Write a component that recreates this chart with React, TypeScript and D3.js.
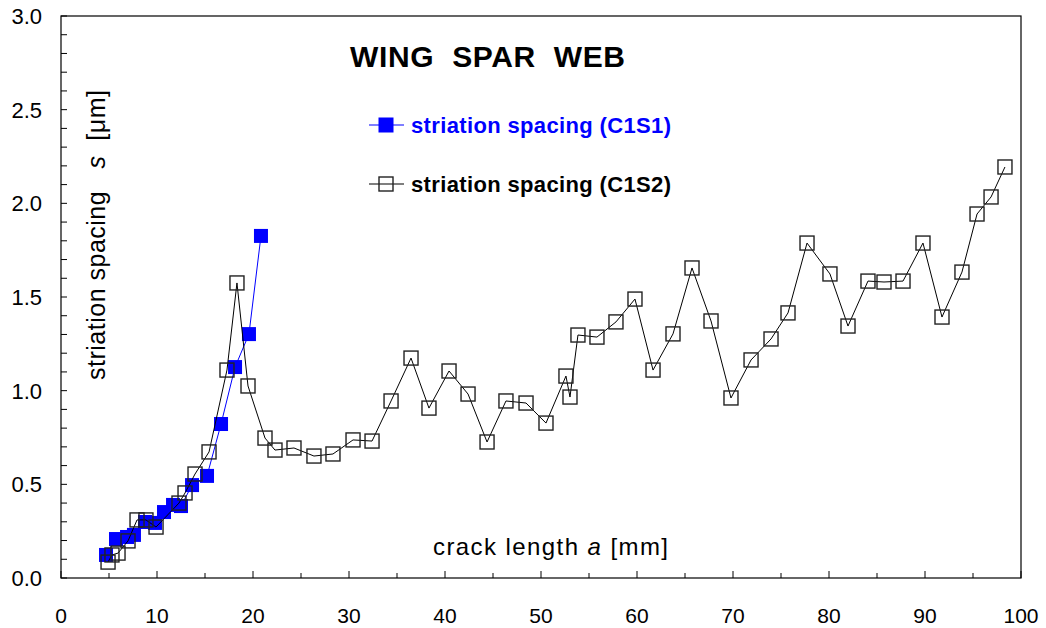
import React from "react";
import * as d3 from "d3";

// crack length a [mm] vs striation spacing s [um]
const c1s1X = [4.69, 5.73, 6.88, 7.6, 8.75, 9.79, 10.73, 11.67, 12.5, 13.65, 15.21, 16.67, 18.13, 19.58, 20.83];
const c1s1Y = [0.123, 0.208, 0.219, 0.23, 0.299, 0.294, 0.352, 0.39, 0.384, 0.496, 0.545, 0.822, 1.126, 1.302, 1.826];

const c1s2X = [
  4.9, 5.31, 5.94, 6.98, 7.92, 8.85, 9.9, 12.29, 12.92, 13.96, 15.42, 17.29, 18.33, 19.48, 21.25, 22.29,
  24.27, 26.35, 28.33, 30.42, 32.4, 34.38, 36.46, 38.33, 40.42, 42.4, 44.38, 46.35, 48.44, 50.52, 52.6,
  53.02, 53.85, 55.83, 57.81, 59.79, 61.67, 63.75, 65.73, 67.71, 69.79, 71.88, 73.96, 75.73, 77.71, 80.1,
  81.98, 84.06, 85.73, 87.71, 89.79, 91.77, 93.85, 95.42, 96.88, 98.33,
];
const c1s2Y = [
  0.085, 0.123, 0.133, 0.198, 0.31, 0.31, 0.272, 0.4, 0.454, 0.555, 0.673, 1.11, 1.575, 1.025, 0.747, 0.683,
  0.694, 0.651, 0.662, 0.737, 0.731, 0.945, 1.174, 0.907, 1.105, 0.982, 0.726, 0.945, 0.934, 0.827, 1.078,
  0.966, 1.297, 1.286, 1.367, 1.489, 1.11, 1.303, 1.655, 1.372, 0.961, 1.164, 1.276, 1.415, 1.788, 1.623,
  1.345, 1.585, 1.58, 1.585, 1.788, 1.393, 1.633, 1.943, 2.034, 2.194,
];

const xTickLabels = ["0", "10", "20", "30", "40", "50", "60", "70", "80", "90", "100"];
const yTickLabels = ["0.0", "0.5", "1.0", "1.5", "2.0", "2.5", "3.0"];

const W = 1046;
const H = 628;
const plot = { left: 61, right: 1021, top: 16, bottom: 578 };
const font = "'Liberation Sans', Arial, sans-serif";

export default function App() {
  const x = d3.scaleLinear().domain([0, 100]).range([plot.left, plot.right]);
  const y = d3.scaleLinear().domain([0, 3]).range([plot.bottom, plot.top]);

  const s1 = c1s1X.map((v, i) => [v, c1s1Y[i]] as [number, number]);
  const s2 = c1s2X.map((v, i) => [v, c1s2Y[i]] as [number, number]);

  const line = d3
    .line<[number, number]>()
    .x((d) => x(d[0]))
    .y((d) => y(d[1]));

  const xMinor = d3.range(0, 101, 5);
  const yMinor = d3.range(0, 31, 1).map((v) => v / 10);

  const ms = 14;

  return (
    <svg width={W} height={H} style={{ position: "absolute", left: 0, top: 0, background: "#fff" }}>
      <rect x={0} y={0} width={W} height={H} fill="#fff" />

      {/* frame */}
      <rect
        x={plot.left}
        y={plot.top}
        width={plot.right - plot.left}
        height={plot.bottom - plot.top}
        fill="none"
        stroke="#000"
        strokeWidth={1.2}
      />

      {/* x ticks */}
      {xMinor.map((v) => (
        <line
          key={"xt" + v}
          x1={x(v)}
          x2={x(v)}
          y1={plot.bottom}
          y2={plot.bottom - (v % 10 === 0 ? 7 : 5)}
          stroke="#000"
        />
      ))}
      {xTickLabels.map((t) => (
        <text key={"xl" + t} x={x(+t)} y={623} fontSize={21} fontFamily={font} textAnchor="middle">
          {t}
        </text>
      ))}

      {/* y ticks */}
      {yMinor.map((v) => (
        <line key={"yt" + v} x1={plot.left} x2={plot.left + 6} y1={y(v)} y2={y(v)} stroke="#000" />
      ))}
      {yTickLabels.map((t) => (
        <text
          key={"yl" + t}
          x={42}
          y={y(+t)}
          dy="0.36em"
          fontSize={22}
          fontFamily={font}
          textAnchor="end"
        >
          {t}
        </text>
      ))}

      {/* axis titles */}
      <text x={433} y={555} fontSize={24} fontFamily={font} textLength={235} style={{ whiteSpace: "pre" }}>
        {"crack length "}
        <tspan fontStyle="italic">a</tspan>
        {" [mm]"}
      </text>
      <text
        transform="translate(105,235) rotate(-90)"
        fontSize={25}
        fontFamily={font}
        textAnchor="middle"
        textLength={290}
        style={{ whiteSpace: "pre" }}
      >
        {"striation spacing   "}
        <tspan fontStyle="italic">s</tspan>
        {"  [μm]"}
      </text>

      {/* title */}
      <text
        x={350}
        y={67}
        fontSize={30}
        fontWeight="bold"
        fontFamily={font}
        textLength={275}
        style={{ whiteSpace: "pre" }}
      >
        {"WING  SPAR  WEB"}
      </text>

      {/* series C1S1 */}
      <path d={line(s1) || ""} fill="none" stroke="#0000ff" strokeWidth={1} />
      {s1.map((d, i) => (
        <rect key={"a" + i} x={x(d[0]) - ms / 2} y={y(d[1]) - ms / 2} width={ms} height={ms} fill="#0000ff" />
      ))}

      {/* series C1S2 */}
      <path d={line(s2) || ""} fill="none" stroke="#000" strokeWidth={1} />
      {s2.map((d, i) => (
        <rect
          key={"b" + i}
          x={x(d[0]) - ms / 2}
          y={y(d[1]) - ms / 2}
          width={ms}
          height={ms}
          fill="none"
          stroke="#222"
          strokeWidth={1.4}
        />
      ))}

      {/* legend */}
      <line x1={369} x2={404} y1={125} y2={125} stroke="#0000ff" strokeWidth={1.2} />
      <rect x={386 - 7.5} y={125 - 7.5} width={15} height={15} fill="#0000ff" />
      <text x={411} y={133} fontSize={22} fontWeight="bold" fontFamily={font} fill="#0000ff" textLength={260}>
        striation spacing (C1S1)
      </text>
      <line x1={369} x2={404} y1={184} y2={184} stroke="#000" strokeWidth={1.2} />
      <rect x={386 - 7} y={184 - 7} width={14} height={14} fill="none" stroke="#222" strokeWidth={1.4} />
      <text x={411} y={192} fontSize={22} fontWeight="bold" fontFamily={font} fill="#000" textLength={260}>
        striation spacing (C1S2)
      </text>
    </svg>
  );
}
